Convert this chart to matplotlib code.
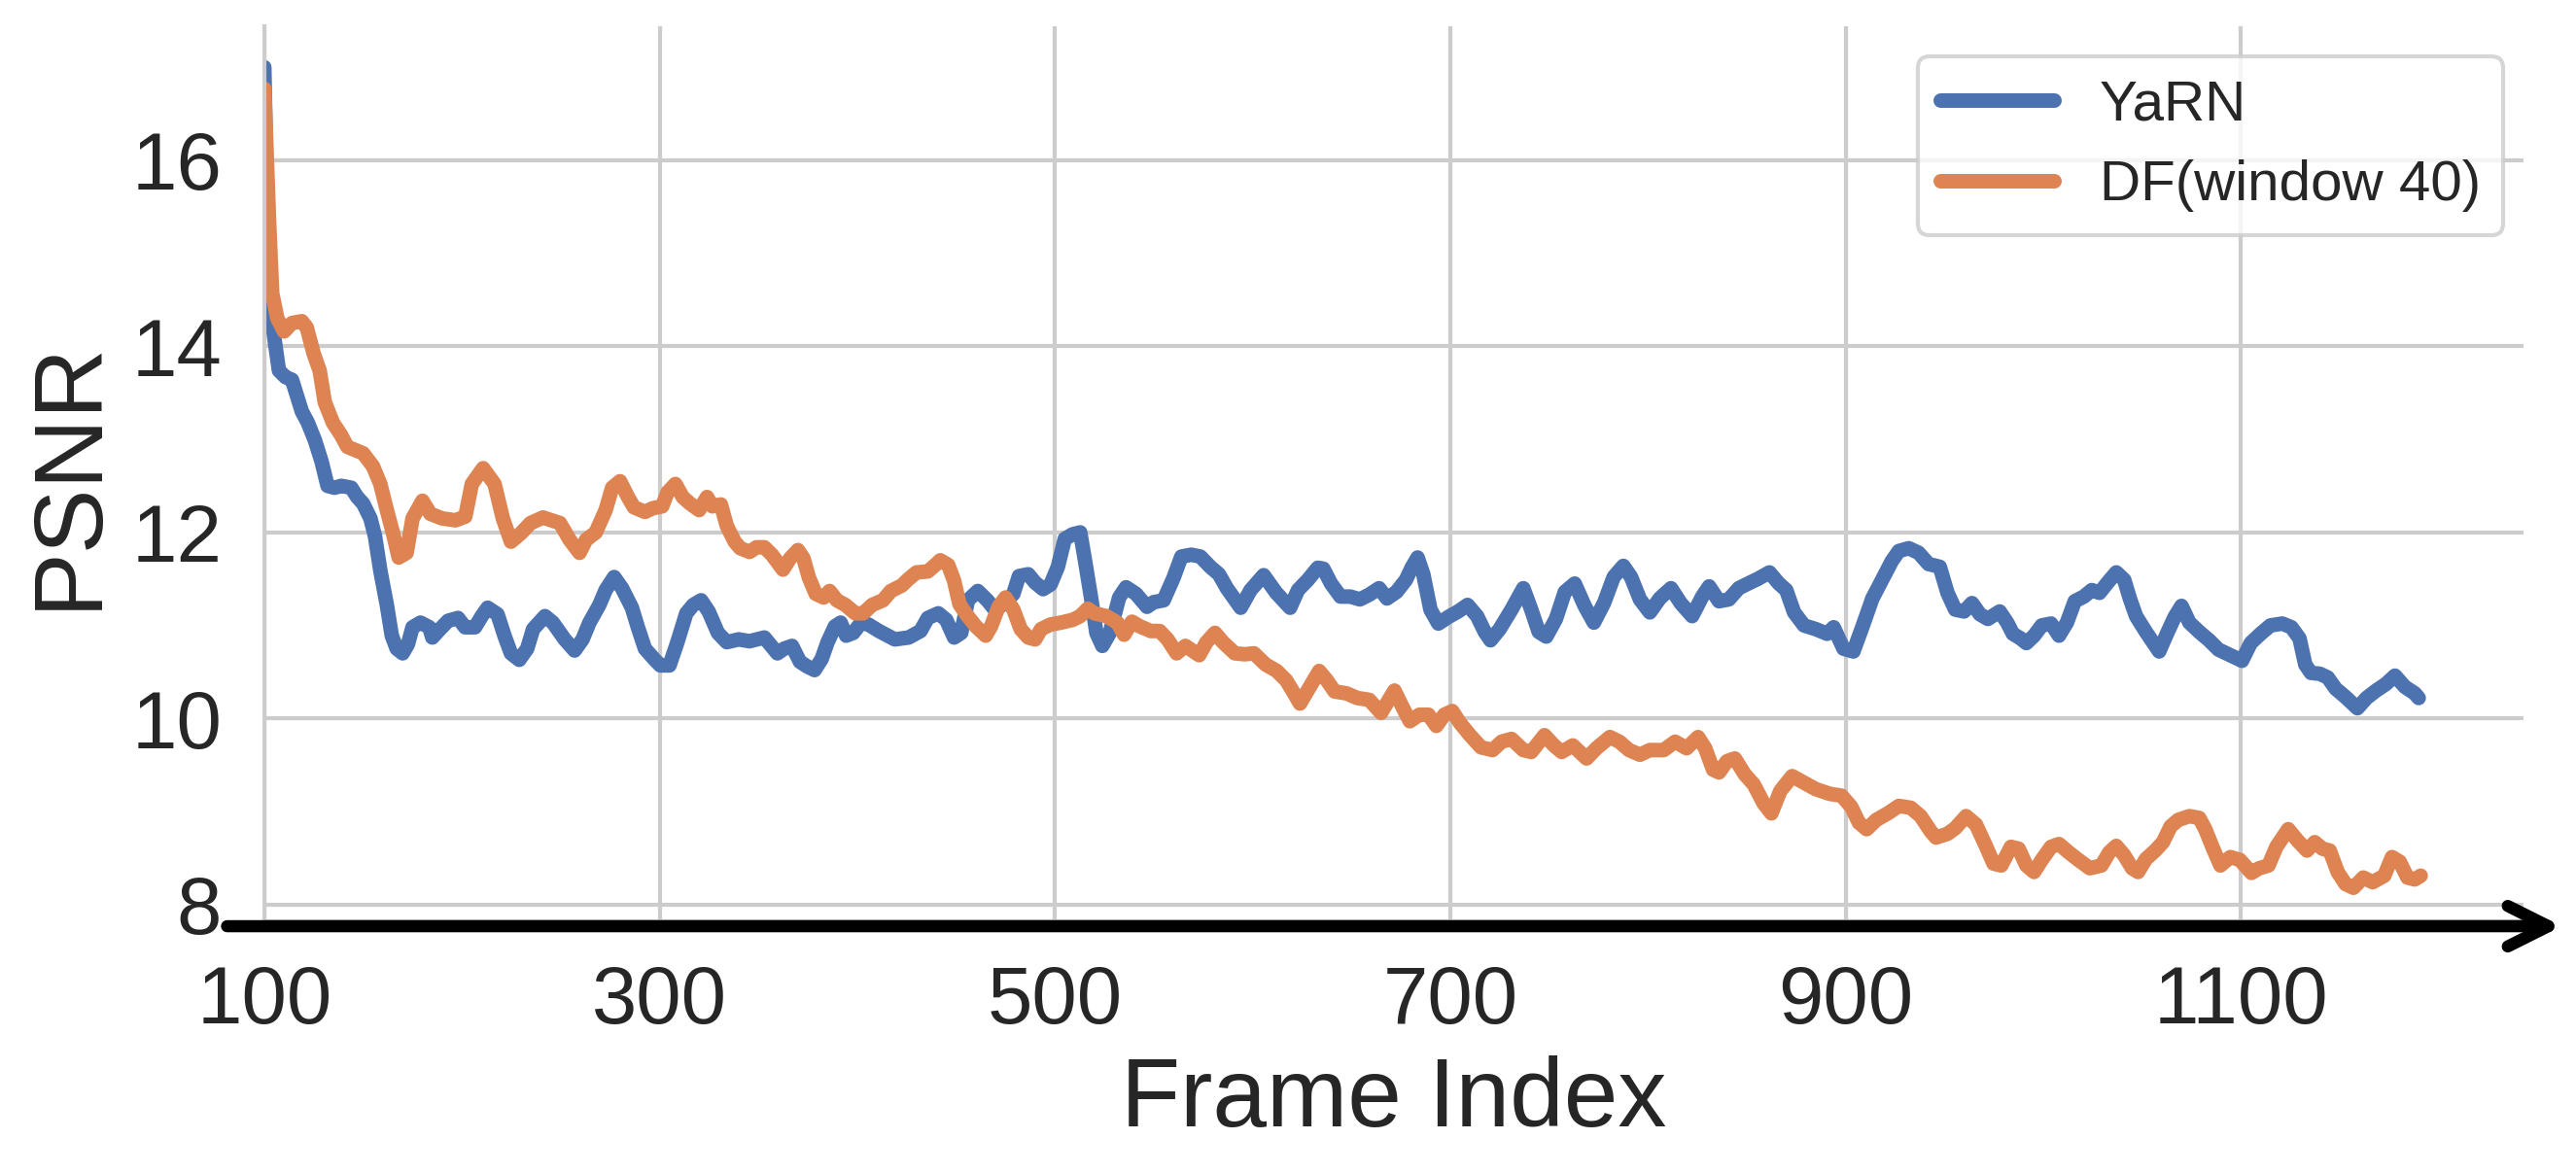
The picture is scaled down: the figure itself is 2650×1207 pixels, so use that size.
import matplotlib
matplotlib.use("Agg")
import matplotlib.pyplot as plt

# values (frame index, PSNR)
yarn_frames = [100, 101.6, 102.5, 105, 107.4, 110.7, 114, 117.4, 119, 122, 125.6, 129, 132, 135.5, 139,
               144, 147, 150, 153.7, 156, 158.7, 162, 164.5, 167, 170, 172.7, 175, 179, 183.5, 185, 188,
               193, 198, 201.6, 206.6, 210, 213, 218, 221.5, 224.8, 229, 233, 236, 242, 246, 252, 257,
               261, 264.5, 269.5, 272.7, 277, 281, 286, 289, 292.6, 297.6,
               300.4, 305, 309, 313.5, 317, 321, 324.8, 329.5, 334, 340, 345.5, 353, 359.6, 363, 367, 371,
               374.6, 378.4, 382, 385, 388.7, 391.6, 394.4, 398, 402, 405.6, 411, 419, 426, 432, 435.7,
               441, 445, 449, 452.6, 456, 461, 465.8, 469.6, 474, 479, 481.8, 486.5, 490, 494, 497.8,
               501.5, 505, 509, 512.8, 515.6, 518.5, 521, 524, 527.8, 532.5, 536, 541, 546.6, 550, 555,
               560, 564, 569, 573.6, 578.6, 583, 587,
               594, 599, 605.6, 612, 619, 623, 628, 633, 635.8, 639.7, 644.5, 649.4, 654.3, 659, 664, 668,
               672.8, 677.6, 680.5, 683.5, 686.4, 690, 694, 699, 704, 708.8, 713.6, 717.5, 720.4, 725,
               731, 737, 741, 744.8, 748.6, 753.5, 758, 763, 768, 772.7, 777.8, 782.7, 787.6, 791.5, 796,
               801, 806, 811.7, 816.6, 822.4, 827.5, 831, 836, 841, 846, 850.7, 855.6, 861.5, 866.3, 870,
               874, 879, 885, 890.7,
               894, 899, 904, 908.8, 913.6, 918.5, 923.4, 927, 932, 937, 942, 947.7, 951.6, 955.5, 960,
               964, 968, 972, 978, 981.8, 984.7, 988.6, 991.5, 995.4, 999.3, 1004, 1008, 1012, 1016,
               1020.6, 1024.6, 1028.5, 1033, 1037, 1041, 1044, 1047, 1052, 1055.8, 1058.7, 1062.6, 1066.5,
               1070, 1074, 1079, 1084, 1088.7, 1094.7, 1100.6, 1105, 1110, 1115, 1121, 1125.6, 1129.7,
               1132.6, 1135.5, 1140, 1144, 1148, 1153, 1159, 1163.6, 1168.5, 1173.4, 1178, 1183, 1188, 1190]
yarn_psnr = [17.0, 15.3, 14.48, 14.1, 13.74, 13.67, 13.64, 13.41, 13.3, 13.18, 12.99, 12.76, 12.5, 12.48, 12.5,
             12.48, 12.38, 12.31, 12.15, 11.96, 11.59, 11.22, 10.89, 10.75, 10.7, 10.8, 10.98, 11.03, 10.98,
             10.87, 10.94, 11.05, 11.08, 10.98, 10.98, 11.1, 11.19, 11.12, 10.89, 10.7, 10.63, 10.75, 10.96,
             11.1, 11.03, 10.85, 10.73, 10.85, 11.03, 11.22, 11.38, 11.52, 11.4, 11.19, 10.98, 10.75, 10.63,
             10.57, 10.57, 10.82, 11.13, 11.22, 11.27, 11.15, 10.92, 10.82, 10.85, 10.83, 10.87, 10.7, 10.75,
             10.78, 10.61, 10.56, 10.52, 10.64, 10.82, 10.99, 11.03, 10.89, 10.92, 11.03, 11.01, 10.94, 10.85,
             10.87, 10.94, 11.08, 11.13, 11.06, 10.87, 10.92, 11.27, 11.37, 11.27, 11.17, 11.23, 11.34, 11.53,
             11.55, 11.46, 11.39, 11.44, 11.63, 11.93, 11.98, 12.0, 11.65, 11.27, 10.92, 10.78, 10.92, 11.3,
             11.41, 11.34, 11.2, 11.25, 11.27, 11.51, 11.74, 11.76, 11.74, 11.63, 11.55, 11.4,
             11.19, 11.38, 11.54, 11.35, 11.19, 11.38, 11.49, 11.62, 11.61, 11.45, 11.31, 11.31, 11.28, 11.33,
             11.4, 11.29, 11.36, 11.49, 11.62, 11.73, 11.55, 11.17, 11.02, 11.09, 11.15, 11.22, 11.1, 10.93,
             10.84, 10.96, 11.17, 11.4, 11.17, 10.93, 10.88, 11.07, 11.36, 11.45, 11.21, 11.03, 11.24, 11.52,
             11.64, 11.52, 11.28, 11.14, 11.29, 11.4, 11.24, 11.1, 11.31, 11.42, 11.26, 11.28, 11.4, 11.45,
             11.5, 11.57, 11.45, 11.38, 11.14, 11.0, 10.96, 10.91,
             10.98, 10.75, 10.72, 11.0, 11.29, 11.49, 11.69, 11.8, 11.83, 11.78, 11.66, 11.63, 11.35, 11.17,
             11.15, 11.24, 11.12, 11.07, 11.15, 11.03, 10.91, 10.86, 10.81, 10.89, 11.0, 11.02, 10.89, 11.03,
             11.26, 11.31, 11.38, 11.35, 11.47, 11.57, 11.49, 11.28, 11.1, 10.93, 10.81, 10.72, 10.91, 11.09,
             11.21, 11.03, 10.93, 10.84, 10.74, 10.68, 10.62, 10.81, 10.91, 11.0, 11.02, 10.98, 10.86, 10.58,
             10.49, 10.48, 10.44, 10.32, 10.23, 10.11, 10.22, 10.3, 10.37, 10.46, 10.34, 10.27, 10.22]

df_frames = [100, 102.5, 104, 106.6, 110, 114, 119, 121.5, 125, 128, 130.6, 134.7, 139, 142, 150, 155,
             158.7, 162, 165.5, 168, 172, 175, 180, 184, 190, 196.7, 201.7, 205, 210.7, 216.5, 220.7,
             224.8, 229.8, 234.7, 241, 249.6, 254.5, 259.5, 262.8, 267.7, 272.7, 276, 280, 284, 287, 292.6,
             296.6, 301.3, 304, 308, 311.7, 315.4, 320, 324, 326.7, 331, 334, 338, 340.8, 345.5, 349, 353,
             356.8, 362.4, 366, 370, 372.8, 375.6, 379, 383, 386, 389.7, 394, 399, 403, 407.5, 413, 417,
             422.6, 426, 430, 435.7, 439.5, 442, 446, 449, 451.7, 455.5, 460, 465, 467.7, 471.5, 475, 479,
             482.7, 486.5, 490, 493, 497.8, 503, 509, 512.8, 516.6, 520, 526, 531.6, 535, 539, 543, 548.5,
             553, 557, 561.6, 566, 573, 576.7, 581, 585,
             591, 596, 600.7, 606.6, 612.3, 617, 621, 624, 629, 633.7, 637.6, 641.5, 647.5, 653, 659, 665,
             669, 671.8, 675.7, 679.6, 684.4, 689, 693, 697, 701, 705, 710, 715.6, 721.4, 726, 731, 737,
             741, 747.7, 752.5, 756.4, 762, 769, 774, 780.8, 785.6, 790.5, 796, 801, 808, 813.8, 819.6,
             825.4, 829, 833, 836, 840, 844, 849, 853.6, 858.5, 862.5, 867, 873, 879, 885,
             892, 898, 902.9, 906.8, 910.7, 915.6, 921.4, 927, 933, 938, 943, 945.8, 951.6, 955.5, 961,
             966, 971, 974.9, 978.8, 983.7, 987.6, 991.5, 995.4, 999.3, 1004, 1008, 1013, 1017.8, 1023.6,
             1029.5, 1033.4, 1037, 1041, 1045, 1048, 1052, 1056.7, 1060.6, 1064.5, 1068.4, 1074, 1079, 1082,
             1086, 1089.7, 1094.7, 1099.5, 1105.4, 1109.3, 1114, 1118, 1124, 1128.6, 1133.5, 1137.4, 1141.3,
             1145, 1149, 1153, 1157, 1162, 1166.7, 1172.6, 1176.5, 1180.4, 1184.3, 1188, 1191]
df_psnr = [16.77, 15.3, 14.57, 14.3, 14.16, 14.25, 14.27, 14.2, 13.92, 13.74, 13.4, 13.18, 13.04, 12.92, 12.85,
           12.71, 12.52, 12.24, 11.96, 11.73, 11.78, 12.15, 12.34, 12.2, 12.15, 12.13, 12.17, 12.52, 12.69,
           12.52, 12.15, 11.9, 11.99, 12.1, 12.16, 12.1, 11.92, 11.78, 11.92, 12.0, 12.24, 12.48, 12.55,
           12.38, 12.27, 12.22,
           12.26, 12.28, 12.43, 12.52, 12.38, 12.31, 12.24, 12.38, 12.28, 12.3, 12.07, 11.9, 11.83, 11.79,
           11.84, 11.84, 11.76, 11.6, 11.72, 11.81, 11.72, 11.51, 11.34, 11.3, 11.37, 11.27, 11.22, 11.13,
           11.13, 11.22, 11.27, 11.37, 11.43, 11.5, 11.57, 11.58, 11.65, 11.7, 11.65, 11.48, 11.23, 11.11,
           10.99, 10.89, 10.99, 11.2, 11.3, 11.17, 10.96, 10.87, 10.85, 10.96, 11.01, 11.03, 11.06, 11.1,
           11.18, 11.13, 11.1, 11.03, 10.9, 11.04, 10.99, 10.94, 10.94, 10.85, 10.7, 10.78, 10.68, 10.82,
           10.92, 10.82,
           10.7, 10.69, 10.7, 10.58, 10.51, 10.41, 10.27, 10.16, 10.34, 10.51, 10.41, 10.29, 10.27, 10.22,
           10.2, 10.06, 10.2, 10.3, 10.13, 9.97, 10.04, 10.04, 9.92, 10.04, 10.08, 9.95, 9.82, 9.69, 9.66,
           9.75, 9.78, 9.66, 9.64, 9.82, 9.71, 9.64, 9.71, 9.57, 9.68, 9.8, 9.75, 9.66, 9.61, 9.66, 9.66,
           9.75, 9.68, 9.8, 9.68, 9.45, 9.42, 9.54, 9.57, 9.4, 9.29, 9.09, 8.98, 9.22, 9.38, 9.31, 9.24,
           9.19, 9.17, 9.05, 8.88, 8.81, 8.91, 8.98, 9.06, 9.04, 8.95, 8.79, 8.72, 8.76, 8.82, 8.95, 8.86,
           8.63, 8.44, 8.42, 8.62, 8.6, 8.42, 8.35, 8.48, 8.62, 8.65, 8.56, 8.48, 8.39, 8.42, 8.56, 8.63,
           8.53, 8.39, 8.35, 8.49, 8.58, 8.67, 8.84, 8.91, 8.95, 8.93, 8.81, 8.6, 8.42, 8.51, 8.48, 8.34,
           8.39, 8.42, 8.62, 8.81, 8.69, 8.58, 8.67, 8.6, 8.58, 8.35, 8.22, 8.18, 8.29, 8.24, 8.31, 8.51,
           8.46, 8.29, 8.27, 8.31]

x_ticks = [100, 300, 500, 700, 900, 1100]
y_ticks = [8, 10, 12, 14, 16]

plt.rcParams["font.family"] = ["Liberation Sans", "DejaVu Sans"]
plt.rcParams["text.color"] = "#262626"
plt.rcParams["xtick.color"] = "#262626"
plt.rcParams["ytick.color"] = "#262626"
plt.rcParams["axes.labelcolor"] = "#262626"

fig = plt.figure(figsize=(2650 / 300, 1207 / 300), dpi=300)
ax = fig.add_axes([0.1026, 0.2146, 0.877, 0.763])

ax.plot(yarn_frames, yarn_psnr, color="#4C72B0", lw=3.6, label="YaRN",
        solid_capstyle="round", solid_joinstyle="round")
ax.plot(df_frames, df_psnr, color="#DD8452", lw=3.6, label="DF(window 40)",
        solid_capstyle="round", solid_joinstyle="round")

ax.set_xlim(100, 1243)
ax.set_ylim(7.82, 17.44)
ax.set_xticks(x_ticks)
ax.set_yticks(y_ticks)
ax.grid(True, color="#cccccc", lw=1.0)
ax.set_axisbelow(True)
ax.tick_params(axis="both", length=0, pad=10.5, labelsize=20)
for s in ["top", "right"]:
    ax.spines[s].set_visible(False)
for s in ["left", "bottom"]:
    ax.spines[s].set_color("#cccccc")
    ax.spines[s].set_linewidth(1.0)

ax.set_xlabel("Frame Index", fontsize=24)
ax.set_ylabel("PSNR", fontsize=24)

# x axis arrow
ax.annotate("", xy=(1.017, -0.0055), xytext=(-0.0165, -0.0055), xycoords="axes fraction",
            arrowprops=dict(arrowstyle="->,head_length=0.4,head_width=0.2", mutation_scale=25,
                            lw=3, color="black", capstyle="round", joinstyle="round",
                            shrinkA=0, shrinkB=0))

leg = ax.legend(loc="upper right", bbox_to_anchor=(2575 / 2650, 1 - 58 / 1207),
                bbox_transform=fig.transFigure, borderaxespad=0, fontsize=14, fancybox=True)
leg.get_frame().set_edgecolor("#cccccc")

fig.savefig("out.png", dpi=300)
